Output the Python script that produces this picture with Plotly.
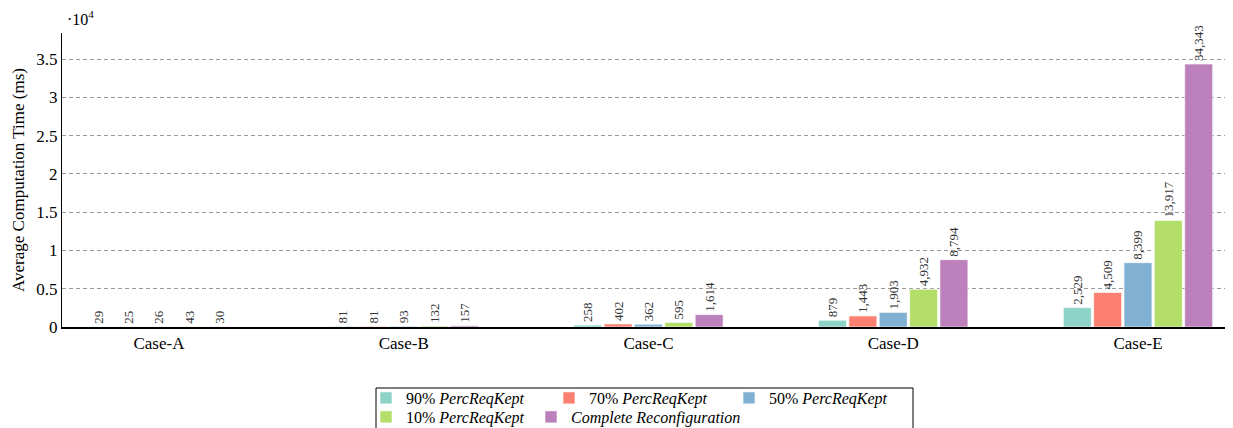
import plotly.graph_objects as go

categories = ["Case-A", "Case-B", "Case-C", "Case-D", "Case-E"]
series_names = [
    "90% <i>PercReqKept</i>",
    "70% <i>PercReqKept</i>",
    "50% <i>PercReqKept</i>",
    "10% <i>PercReqKept</i>",
    "<i>Complete Reconfiguration</i>",
]
p90 = [29, 81, 258, 879, 2529]
p70 = [25, 81, 402, 1443, 4509]
p50 = [26, 93, 362, 1903, 8399]
p10 = [43, 132, 595, 4932, 13917]
complete = [30, 157, 1614, 8794, 34343]
series_values = [p90, p70, p50, p10, complete]
colors = ["#8dd3c7", "#fb8072", "#80b1d3", "#b3de69", "#bc80bd"]

tick_vals = [0, 5000, 10000, 15000, 20000, 25000, 30000, 35000]
tick_text = ["0", "0.5", "1", "1.5", "2", "2.5", "3", "3.5"]

FONT = "Liberation Serif"
W, H = 1233, 428
OFF = 8  # page body margin of the HTML page
# plot area in screenshot pixels: x 62..1231, y 33..327
ML = 62 - OFF
MT = 33 - OFF
MR = W - (1231 - OFF)
MB = H - (327 - OFF)
PW, PH = W - ML - MR, H - MT - MB


def px2x(px):
    return (px - OFF - ML) / PW


def px2y(py):
    return (H - MB - (py - OFF)) / PH


# legend entry text start (px) and row centre (px) for each series
legend_pos = [(407, 398), (590, 398), (770, 398), (407, 417), (572, 417)]
legend_ids = ["legend", "legend2", "legend3", "legend4", "legend5"]

fig = go.Figure()
for name, vals, col, lid in zip(series_names, series_values, colors, legend_ids):
    fig.add_trace(go.Bar(
        x=categories, y=vals, name=name, legend=lid,
        marker=dict(color=col, line=dict(color="rgba(255,255,255,0.6)", width=1)),
        text=vals, texttemplate="%{y:,}", textposition="outside",
        textangle=-90, cliponaxis=False, constraintext="none",
        textfont=dict(family=FONT, size=13, color="#333"),
    ))

layout_legends = {}
for lid, (tx, ty) in zip(legend_ids, legend_pos):
    layout_legends[lid] = dict(
        orientation="h", x=px2x(tx - 41), y=px2y(ty),
        xanchor="left", yanchor="middle",
        bgcolor="rgba(0,0,0,0)", borderwidth=0,
        font=dict(family=FONT, size=16, color="black"),
        itemwidth=30,
    )

fig.update_layout(
    width=W, height=H,
    margin=dict(l=ML, r=MR, t=MT, b=MB, autoexpand=False),
    paper_bgcolor="white", plot_bgcolor="white",
    font=dict(family=FONT, size=17, color="black"),
    barmode="group", bargap=0.38, bargroupgap=0.08,
    showlegend=True,
    **layout_legends,
)
fig.add_shape(
    type="rect", xref="paper", yref="paper",
    x0=px2x(376), x1=px2x(913), y0=px2y(388), y1=px2y(445),
    line=dict(color="black", width=1), fillcolor="rgba(0,0,0,0)",
)
fig.update_xaxes(
    range=[-0.396, 4.38], showline=True, linecolor="black", linewidth=1.5,
    ticks="", showgrid=False, tickfont=dict(family=FONT, size=17),
)
fig.update_yaxes(
    range=[0, 38400], tickvals=tick_vals, ticktext=tick_text,
    showline=True, linecolor="black", linewidth=1, zeroline=False,
    showgrid=True, gridcolor="#999", griddash="4px,3px", gridwidth=1,
    ticks="", tickfont=dict(family=FONT, size=17),
    title=dict(text="Average Computation Time (ms)", font=dict(family=FONT, size=17), standoff=7),
)
fig.add_annotation(
    xref="paper", yref="paper", x=0, y=1, xanchor="left", yanchor="bottom",
    xshift=3, yshift=3, showarrow=False, text="·10<sup>4</sup>",
    font=dict(family=FONT, size=16),
)
fig.write_html("out.html")
